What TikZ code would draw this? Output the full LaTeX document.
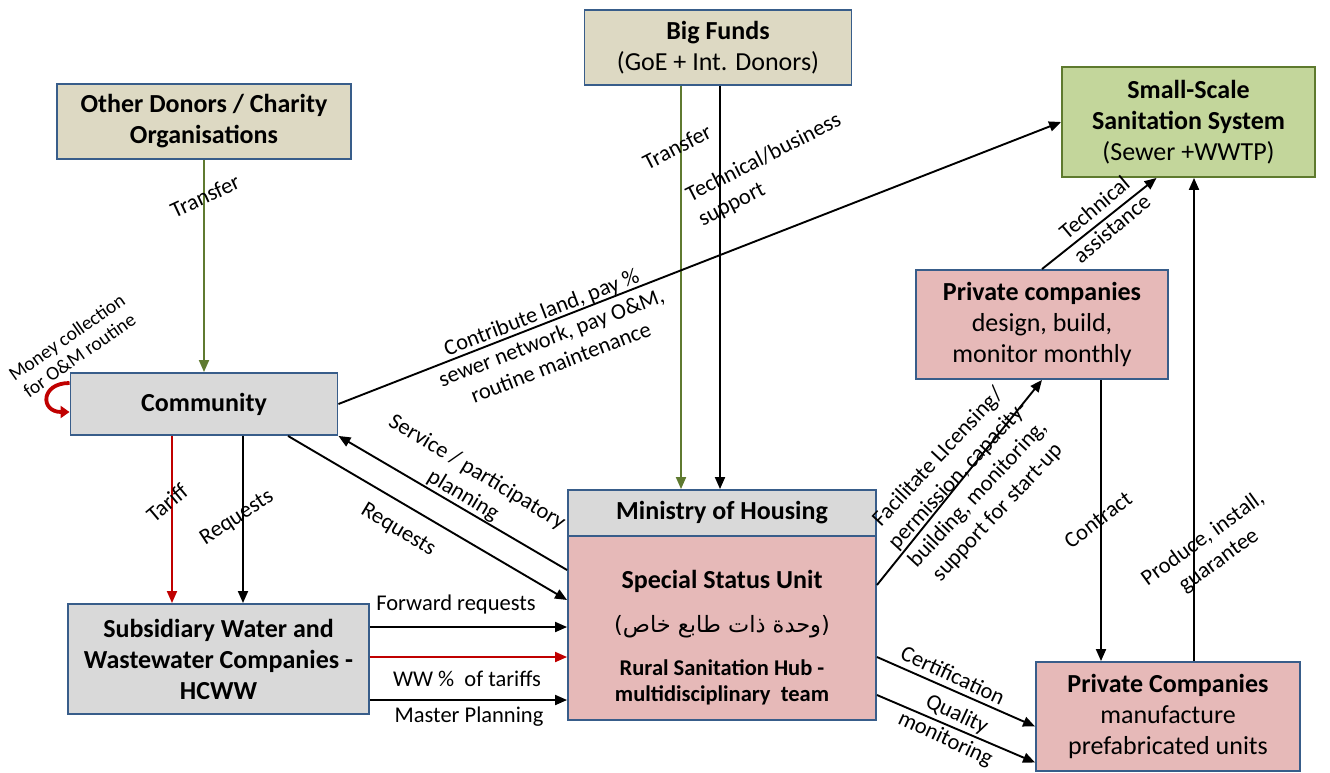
\documentclass[tikz,border=0pt]{standalone}
\usepackage{fontspec}
\setmainfont{Carlito}
\newfontfamily\arabicfont[Script=Arabic]{DejaVu Sans}
\TeXXeTstate=1
\usetikzlibrary{arrows.meta}

\definecolor{boxblue}{HTML}{385D8A}
\definecolor{tanfill}{HTML}{DDD9C3}
\definecolor{grayfill}{HTML}{D9D9D9}
\definecolor{pinkfill}{HTML}{E6B9B8}
\definecolor{greenfill}{HTML}{C3D69B}
\definecolor{greenline}{HTML}{5E7A2E}
\definecolor{transfergreen}{HTML}{5F7A30}
\definecolor{tariffred}{HTML}{C00000}

\newcommand{\hubfont}{\fontsize{22.5}{26}\selectfont\bfseries}

\tikzset{
  box/.style = {draw = boxblue, align = center, inner sep = 0pt, font = \fontsize{26}{31}\selectfont},
  lbl/.style = {align = center, inner sep = 0pt, font = \fontsize{22.5}{27}\selectfont},
}

\begin{document}
\begin{tikzpicture}[x = 1pt, y = -1pt, line width = 1.9pt, >={Triangle[length=12pt, width=10pt]}]
    \useasboundingbox (0, 0) rectangle (1330, 773);
    \node[box, fill = tanfill, minimum width = 267pt, minimum height = 75pt] (big funds) at (718, 47.5) {\textbf{Big Funds} \\ (GoE + Int. Donors)};
    \node[box, fill = tanfill, minimum width = 294pt, minimum height = 75pt] (other donors) at (204, 121.5) {\textbf{Other Donors / Charity} \\ \textbf{Organisations}};
    \node[box, draw = greenline, fill = greenfill, minimum width = 253pt, minimum height = 110pt] (small scale) at (1188.5, 122) {\textbf{Small-Scale} \\ \textbf{Sanitation System} \\ (Sewer +WWTP)};
    \node[box, fill = pinkfill, minimum width = 252pt, minimum height = 109pt] (private design) at (1042, 324.5) {\textbf{Private companies} \\ design, build, \\ monitor monthly};
    \node[box, fill = grayfill, minimum width = 267pt, minimum height = 62pt] (community) at (204, 404) {\textbf{Community}};
    \node[box, fill = grayfill, minimum width = 308pt, minimum height = 46pt] (ministry) at (722, 513) {\textbf{Ministry of Housing}};
    \node[box, fill = pinkfill, minimum width = 308pt, minimum height = 184pt] (special unit) at (722, 628) {\rule{0pt}{37pt}\textbf{Special Status Unit} \\[13pt] \arabicfont\fontsize{22.5}{28}\selectfont\beginR(وحدة ذات طابع خاص)\endR \\[12pt] \hubfont Rural Sanitation Hub - \\[-5pt] \hubfont multidisciplinary\ \ team};
    \node[box, fill = grayfill, minimum width = 301pt, minimum height = 110pt] (subsidiary) at (218.5, 659) {\textbf{Subsidiary Water and} \\ \textbf{Wastewater Companies -} \\ \textbf{HCWW}};
    \node[box, fill = pinkfill, minimum width = 264pt, minimum height = 109pt] (private manufacture) at (1168, 716.5) {\textbf{Private Companies} \\ manufacture \\ prefabricated units};
    % money flows
    \draw[->, transfergreen] (other donors.south) -- (community.north);
    \draw[->, transfergreen] ([xshift = -37pt]big funds.south) -- ([xshift = -37pt]big funds.south |- ministry.north);
    \draw[->] ([xshift = 2pt]big funds.south) -- ([xshift = 2pt]big funds.south |- ministry.north);
    \node[lbl, rotate = 25] (transfer donors) at (205, 196) {Transfer};
    \node[lbl, rotate = 27] (transfer funds) at (677, 147) {Transfer};
    \node[lbl, rotate = 27, align = left] (business support) at (770, 170) {Technical/business \\ support};
    \draw[->, tariffred, line width = 3.8pt, >={Triangle[length=9pt, width=12pt]}] ([yshift = 21pt]community.west) to[out = 180, in = 180, looseness = 2.6] ([yshift = -8pt]community.west);
    \node[lbl, rotate = 35, font = \fontsize{19.5}{22}\selectfont] (money collection) at (73, 346) {Money collection \\ for O\&M routine};
    % community
    \draw[->] (community.east) -- (small scale.west);
    \node[lbl, rotate = 21] (contribute) at (551, 337) {Contribute land, pay \% \\ sewer network, pay O\&M, \\ routine maintenance};
    \draw[->, tariffred] ([xshift = -32pt]community.south) -- ([xshift = -32pt]community.south |- subsidiary.north);
    \draw[->] ([xshift = 39pt]community.south) -- ([xshift = 39pt]community.south |- subsidiary.north);
    \node[lbl, rotate = 40] (tariff) at (167, 503) {Tariff};
    \node[lbl, rotate = 33] (requests down) at (237, 518) {Requests};
    \draw[->] ([xshift = 84pt]community.south) -- ([yshift = 28pt]special unit.west);
    \draw[->] ([yshift = 58pt]special unit.west) -- (community.south east);
    \node[lbl, rotate = -31] (requests unit) at (398, 530) {Requests};
    \node[lbl, rotate = -31] (service) at (470, 484) {Service / participatory \\ planning};
    % subsidiary companies
    \draw[->] ([yshift = 32pt]subsidiary.east) -- ([yshift = 32pt]subsidiary.east -| special unit.west);
    \draw[->, tariffred] ([yshift = 2pt]subsidiary.east) -- ([yshift = 2pt]subsidiary.east -| special unit.west);
    \draw[->] ([yshift = -41pt]subsidiary.east) -- ([yshift = -41pt]subsidiary.east -| special unit.west);
    \node[lbl] (forward) at (456, 604) {Forward requests};
    \node[lbl] (tariff share) at (467, 679) {WW \%\ \ of tariffs};
    \node[lbl] (master planning) at (469, 717) {Master Planning};
    % private companies
    \draw[->] ([yshift = 43pt]special unit.east) -- (private design.south);
    \node[lbl, rotate = 47] (facilitate) at (968, 485) {Facilitate LIcensing/ \\ permission, capacity- \\ building, monitoring, \\ support for start-up};
    \draw[->] (private design.north) -- ([xshift = -32pt]small scale.south);
    \node[lbl, rotate = 40] (assistance) at (1103, 218) {Technical \\ assistance};
    \draw[->] ([xshift = 59pt]private design.south) -- ([xshift = 59pt]private design.south |- private manufacture.north);
    \node[lbl, rotate = 37] (contract) at (1098, 520) {Contract};
    \draw[->] ([xshift = 26pt]private manufacture.north) -- ([xshift = 26pt]private manufacture.north |- small scale.south);
    \node[lbl, rotate = 36] (produce) at (1211, 550) {Produce, install, \\ guarantee};
    \draw[->] ([yshift = -29pt]special unit.east) -- ([yshift = -10pt]private manufacture.west);
    \draw[->] ([yshift = -67pt]special unit.east) -- ([yshift = -46pt]private manufacture.west);
    \node[lbl, rotate = -25] (certification) at (953, 675) {Certification};
    \node[lbl, rotate = -25] (quality) at (951, 727) {Quality \\ monitoring};
\end{tikzpicture}
\end{document}
